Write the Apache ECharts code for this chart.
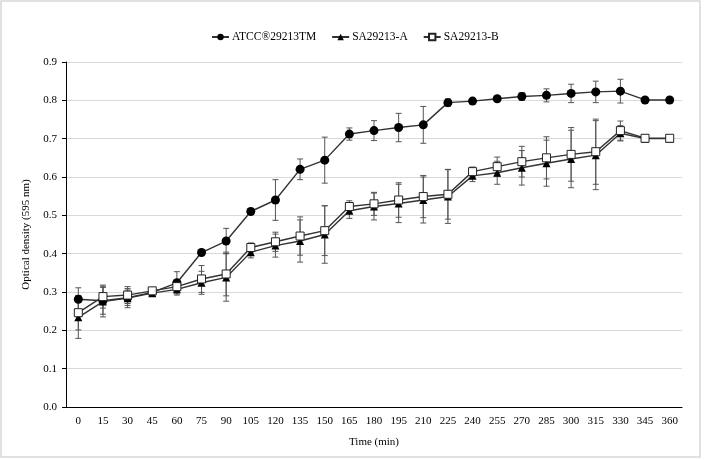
<!DOCTYPE html>
<html>
<head>
<meta charset="utf-8">
<script src="https://cdn.jsdelivr.net/npm/echarts@6/dist/echarts.min.js"></script>
<style>
  html, body { margin: 0; padding: 0; background: #fff; }
  #main { width: 705px; height: 460px; }
</style>
</head>
<body>
<div id="main"></div>
<script>
// time points (min)
var times = ['0','15','30','45','60','75','90','105','120','135','150','165','180','195','210','225','240','255','270','285','300','315','330','345','360'];

// optical density
var atcc    = [0.281,0.277,0.285,0.299,0.324,0.403,0.433,0.510,0.540,0.620,0.644,0.712,0.721,0.729,0.736,0.794,0.798,0.804,0.810,0.813,0.818,0.822,0.824,0.801,0.801];
var atccErr = [0.030,0.035,0.020,0.010,0.029,0.008,0.033,0.008,0.053,0.027,0.060,0.016,0.026,0.037,0.048,0.010,0.003,0.004,0.010,0.017,0.024,0.028,0.031,0.003,0.003];

var saA    = [0.234,0.275,0.284,0.297,0.307,0.324,0.338,0.404,0.421,0.433,0.450,0.512,0.523,0.531,0.540,0.549,0.603,0.611,0.624,0.636,0.647,0.657,0.714,0.700,0.700];
var saAErr = [0.055,0.040,0.025,0.008,0.015,0.030,0.062,0.015,0.030,0.055,0.075,0.020,0.035,0.050,0.060,0.070,0.015,0.030,0.045,0.060,0.075,0.090,0.020,0.004,0.004];

var saB    = [0.246,0.288,0.292,0.303,0.314,0.334,0.347,0.416,0.431,0.446,0.460,0.523,0.530,0.540,0.549,0.555,0.614,0.627,0.640,0.650,0.659,0.666,0.721,0.701,0.701];
var saBErr = [0.045,0.030,0.022,0.008,0.012,0.035,0.057,0.012,0.025,0.050,0.065,0.015,0.030,0.045,0.055,0.065,0.012,0.025,0.040,0.055,0.070,0.085,0.025,0.004,0.004];

var yTicks = [0, 0.1, 0.2, 0.3, 0.4, 0.5, 0.6, 0.7, 0.8, 0.9];

var serif = 'Liberation Serif';
var lineColor = '#333';

// [index, low, high] for the error bars
function errData(vals, errs) {
    return vals.map(function (v, i) { return [i, v - errs[i], v + errs[i]]; });
}

function renderErr(params, api) {
    var x = api.value(0);
    var lo = api.coord([x, api.value(1)]);
    var hi = api.coord([x, api.value(2)]);
    var half = 3;
    var style = { stroke: '#555', lineWidth: 1 };
    return {
        type: 'group',
        children: [
            { type: 'line', shape: { x1: lo[0], y1: lo[1], x2: hi[0], y2: hi[1] }, style: style },
            { type: 'line', shape: { x1: lo[0] - half, y1: lo[1], x2: lo[0] + half, y2: lo[1] }, style: style },
            { type: 'line', shape: { x1: hi[0] - half, y1: hi[1], x2: hi[0] + half, y2: hi[1] }, style: style }
        ]
    };
}

function errSeries(vals, errs) {
    return {
        type: 'custom',
        renderItem: renderErr,
        data: errData(vals, errs),
        encode: { x: 0, y: [1, 2] },
        z: 1,
        silent: true,
        legendHoverLink: false
    };
}

var myChart = echarts.init(document.getElementById('main'));
var option = {
    animation: false,
    textStyle: { fontFamily: serif },
    legend: {
        top: 26,
        left: 206,
        itemGap: 15,
        itemWidth: 17,
        itemHeight: 8,
        textStyle: { fontFamily: serif, fontSize: 11.5, color: '#000', padding: [0, 0, 0, -2] },
        data: ['ATCC®29213TM', 'SA29213-A', 'SA29213-B']
    },
    grid: { left: 66, right: 23, top: 62, bottom: 53 },
    xAxis: {
        type: 'category',
        data: times,
        name: 'Time (min)',
        nameLocation: 'middle',
        nameGap: 30,
        nameTextStyle: { fontFamily: serif, fontSize: 11, color: '#000' },
        axisLine: { lineStyle: { color: '#000', width: 1 } },
        axisTick: { alignWithLabel: true, length: 4, lineStyle: { color: '#000' } },
        axisLabel: { interval: 0, fontFamily: serif, fontSize: 11, color: '#000', margin: 9 }
    },
    yAxis: {
        type: 'value',
        min: yTicks[0],
        max: yTicks[yTicks.length - 1],
        interval: 0.1,
        name: 'Optical density (595 nm)',
        nameLocation: 'middle',
        nameGap: 34,
        nameTextStyle: { fontFamily: serif, fontSize: 11, color: '#000' },
        axisLine: { show: true, lineStyle: { color: '#000', width: 1 } },
        axisTick: { show: true, length: 4, lineStyle: { color: '#000' } },
        axisLabel: {
            fontFamily: serif, fontSize: 11, color: '#000', margin: 9,
            formatter: function (v) { return v.toFixed(1); }
        },
        splitLine: { lineStyle: { color: '#d9d9d9', width: 1 } }
    },
    graphic: [{
        type: 'rect',
        shape: { x: 1, y: 1, width: 699, height: 456 },
        style: { fill: 'none', stroke: '#d8d8d8', lineWidth: 1.5 },
        silent: true
    }],
    series: [
        errSeries(atcc, atccErr),
        errSeries(saA, saAErr),
        errSeries(saB, saBErr),
        {
            name: 'ATCC®29213TM',
            type: 'line',
            data: atcc,
            symbol: 'circle',
            symbolSize: 9,
            z: 3,
            lineStyle: { color: lineColor, width: 1.4 },
            itemStyle: { color: '#000', borderColor: '#000', borderWidth: 0 }
        },
        {
            name: 'SA29213-A',
            type: 'line',
            data: saA,
            symbol: 'triangle',
            symbolSize: 8,
            z: 3,
            lineStyle: { color: lineColor, width: 1.4 },
            itemStyle: { color: '#000', borderColor: '#000', borderWidth: 0 }
        },
        {
            name: 'SA29213-B',
            type: 'line',
            data: saB,
            symbol: 'rect',
            symbolSize: 8,
            z: 4,
            lineStyle: { color: lineColor, width: 1.4 },
            itemStyle: { color: '#fff', borderColor: '#222', borderWidth: 1 }
        }
    ]
};
myChart.setOption(option);
</script>
</body>
</html>
